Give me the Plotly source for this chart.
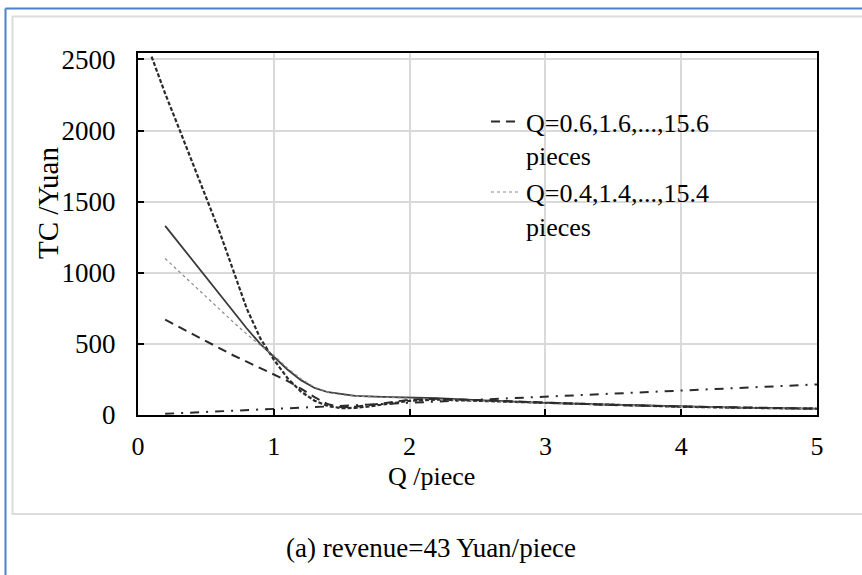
import plotly.graph_objects as go

# ---- data ----
x_steep = [0.1, 0.2, 0.3, 0.4, 0.5, 0.6, 0.7, 0.8, 0.9, 1.0, 1.1, 1.2, 1.3, 1.4, 1.5,
           1.6, 1.7, 1.8, 1.9, 2.0, 2.2, 2.5, 3.0, 3.5, 4.0, 4.5, 5.0]
y_steep = [2520, 2260, 2020, 1780, 1540, 1290, 1020, 750, 540, 390, 260, 165, 100, 62, 48,
           50, 60, 75, 90, 100, 108, 100, 82, 68, 58, 50, 44]

x_solid = [0.2, 0.3, 0.4, 0.5, 0.6, 0.7, 0.8, 0.9, 1.0, 1.1, 1.2, 1.3, 1.4, 1.5, 1.6,
           1.8, 2.0, 2.2, 2.5, 3.0, 3.5, 4.0, 4.5, 5.0]
y_solid = [1330, 1210, 1090, 970, 850, 730, 610, 500, 410, 320, 245, 190, 160, 145, 135,
           128, 125, 118, 105, 85, 72, 60, 50, 45]

x_q04 = [0.2, 0.3, 0.4, 0.5, 0.6, 0.7, 0.8, 0.9, 1.0, 1.1, 1.2, 1.3, 1.4, 1.5, 1.6,
         1.8, 2.0, 2.2, 2.5, 3.0, 3.5, 4.0, 4.5, 5.0]
y_q04 = [1100, 1010, 920, 830, 740, 655, 570, 490, 420, 330, 255, 195, 160, 142, 132,
         124, 118, 112, 100, 82, 70, 58, 49, 43]

x_q06 = [0.2, 0.3, 0.4, 0.5, 0.6, 0.7, 0.8, 0.9, 1.0, 1.1, 1.2, 1.3, 1.4, 1.5, 1.6,
         1.7, 1.8, 2.0, 2.2, 2.5, 3.0, 3.5, 4.0, 4.5, 5.0]
y_q06 = [670, 620, 570, 520, 465, 420, 375, 330, 285, 240, 185, 125, 75, 55, 58,
         68, 82, 108, 115, 105, 85, 70, 60, 50, 45]

x_rev = [0.2, 0.5, 1.0, 1.5, 2.0, 2.5, 3.0, 3.5, 4.0, 4.5, 5.0]
y_rev = [8.6, 21.5, 43.0, 64.5, 86.0, 107.5, 129.0, 150.5, 172.0, 193.5, 215.0]

name_q06 = "Q=0.6,1.6,...,15.6<br>pieces"
name_q04 = "Q=0.4,1.4,...,15.4<br>pieces"

x_ticks = [0, 1, 2, 3, 4, 5]
y_ticks = [0, 500, 1000, 1500, 2000, 2500]

xlabel = "Q /piece"
ylabel = "TC /Yuan"
caption = "(a) revenue=43 Yuan/piece"

FONT = "Liberation Serif"

fig = go.Figure()
fig.add_trace(go.Scatter(x=x_rev, y=y_rev, mode="lines", showlegend=False,
                         line=dict(color="#2a2a2a", width=2, dash="9px,7px,2px,7px")))
fig.add_trace(go.Scatter(x=x_steep, y=y_steep, mode="lines", showlegend=False,
                         line=dict(color="#2a2a2a", width=2.2, dash="4px,2px")))
fig.add_trace(go.Scatter(x=x_solid, y=y_solid, mode="lines", showlegend=False,
                         line=dict(color="#3a3a3a", width=1.8)))
fig.add_trace(go.Scatter(x=x_q04, y=y_q04, mode="lines", name=name_q04,
                         line=dict(color="#8a8a8a", width=1.2, dash="dot")))
fig.add_trace(go.Scatter(x=x_q06, y=y_q06, mode="lines", name=name_q06,
                         line=dict(color="#2a2a2a", width=2, dash="9px,6px")))

W, H = 862, 575
L, R, T, B = 138, 817, 53, 415

def px(xp):
    return (xp - L) / (R - L)

def py(yp):
    return (B - yp) / (B - T)

fig.update_layout(
    width=W, height=H,
    margin=dict(l=L, r=W - R, t=T, b=H - B),
    paper_bgcolor="white", plot_bgcolor="white",
    font=dict(family=FONT, size=26, color="black"),
    showlegend=True,
    legend=dict(x=px(486), y=py(98), xanchor="left", yanchor="top", valign="top",
                bgcolor="rgba(0,0,0,0)", font=dict(family=FONT, size=26, color="black"),
                traceorder="reversed", tracegroupgap=0),
    xaxis=dict(range=[0, 5], tickvals=x_ticks, ticks="inside", ticklen=6, tickwidth=1.5,
               tickcolor="black", showline=True, linecolor="black", linewidth=2, mirror=True,
               showgrid=True, gridcolor="#d9d9d9", gridwidth=1.5, zeroline=False,
               ticklabelstandoff=7, tickfont=dict(family=FONT, size=26)),
    yaxis=dict(range=[0, 2545], tickvals=y_ticks, ticks="inside", ticklen=6, tickwidth=1.5,
               tickcolor="black", showline=True, linecolor="black", linewidth=2, mirror=True,
               showgrid=True, gridcolor="#d9d9d9", gridwidth=1.5, zeroline=False,
               ticklabelstandoff=15, tickfont=dict(family=FONT, size=27)),
    shapes=[
        # blue outer frame (left and top edges)
        dict(type="line", xref="paper", yref="paper", x0=px(5.5), x1=px(5.5), y0=py(8.5), y1=py(575),
             line=dict(color="#4f81c7", width=2)),
        dict(type="line", xref="paper", yref="paper", x0=px(5.5), x1=px(862), y0=py(8.5), y1=py(8.5),
             line=dict(color="#4f81c7", width=2)),
        # light gray chart-area border
        dict(type="rect", xref="paper", yref="paper", x0=px(12.5), x1=px(870), y0=py(16.5), y1=py(514),
             line=dict(color="#dcdcdc", width=2), fillcolor="rgba(0,0,0,0)", layer="below"),
    ],
    annotations=[
        dict(text=ylabel, xref="paper", yref="paper", x=px(48), y=py(203), textangle=-90,
             xanchor="center", yanchor="middle", showarrow=False,
             font=dict(family=FONT, size=29, color="black")),
        dict(text=xlabel, xref="paper", yref="paper", x=px(431), y=py(476),
             xanchor="center", yanchor="middle", showarrow=False,
             font=dict(family=FONT, size=26, color="black")),
        dict(text=caption, xref="paper", yref="paper", x=px(431), y=py(548),
             xanchor="center", yanchor="middle", showarrow=False,
             font=dict(family=FONT, size=27, color="black")),
    ],
)

fig.write_html("out.html")
